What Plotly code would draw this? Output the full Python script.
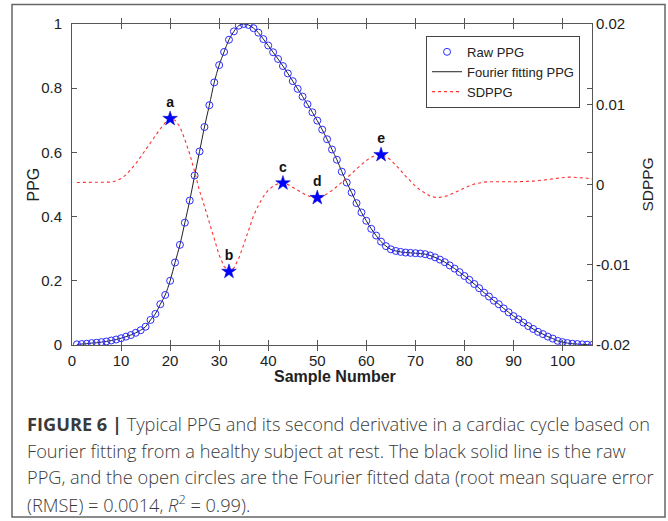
import plotly.graph_objects as go

# ---------------- data ----------------
sample = list(range(1, 107))

ppg = [0.002, 0.003, 0.004, 0.006, 0.007, 0.009, 0.011, 0.014, 0.017, 0.021,
       0.026, 0.031, 0.038, 0.046, 0.057, 0.078, 0.097, 0.127, 0.156, 0.200,
       0.257, 0.312, 0.381, 0.450, 0.528, 0.603, 0.679, 0.747, 0.818, 0.872,
       0.913, 0.951, 0.977, 0.995, 1.000, 0.997, 0.987, 0.973, 0.953, 0.933,
       0.912, 0.891, 0.869, 0.846, 0.822, 0.798, 0.774, 0.750, 0.725, 0.699,
       0.671, 0.641, 0.609, 0.577, 0.540, 0.506, 0.475, 0.442, 0.413, 0.387,
       0.362, 0.341, 0.322, 0.308, 0.298, 0.293, 0.290, 0.288, 0.287, 0.286,
       0.285, 0.283, 0.279, 0.273, 0.266, 0.258, 0.248, 0.238, 0.227, 0.215,
       0.203, 0.190, 0.177, 0.163, 0.151, 0.138, 0.127, 0.114, 0.102, 0.090,
       0.080, 0.070, 0.059, 0.050, 0.041, 0.034, 0.026, 0.020, 0.013, 0.009,
       0.006, 0.004, 0.003, 0.002, 0.001, 0.000]

sdppg = [0.00025, 0.00025, 0.00024, 0.00024, 0.00024, 0.00024, 0.00025, 0.00030, 0.00045, 0.00075,
         0.00120, 0.00185, 0.00260, 0.00345, 0.00435, 0.00525, 0.00610, 0.00695, 0.00770, 0.00820,
         0.00800, 0.00720, 0.00560, 0.00380, 0.00160, -0.00080, -0.00270, -0.00480, -0.00690, -0.00880,
         -0.01020, -0.01085, -0.01040, -0.00920, -0.00750, -0.00560, -0.00390, -0.00260, -0.00150, -0.00070,
         -0.00020, 0.00010, 0.00017, 0.00000, -0.00035, -0.00070, -0.00110, -0.00140, -0.00160, -0.00165,
         -0.00155, -0.00120, -0.00075, -0.00025, 0.00025, 0.00075, 0.00135, 0.00195, 0.00250, 0.00300,
         0.00340, 0.00365, 0.00370, 0.00350, 0.00305, 0.00245, 0.00175, 0.00105, 0.00040, -0.00020,
         -0.00070, -0.00110, -0.00145, -0.00160, -0.00160, -0.00150, -0.00130, -0.00100, -0.00070, -0.00040,
         -0.00015, 0.00005, 0.00020, 0.00030, 0.00035, 0.00037, 0.00037, 0.00036, 0.00034, 0.00033,
         0.00033, 0.00035, 0.00038, 0.00042, 0.00048, 0.00055, 0.00062, 0.00070, 0.00080, 0.00088,
         0.00092, 0.00092, 0.00090, 0.00085, 0.00078, 0.00070]

star_samples = [20, 32, 43, 50, 63]
star_labels = ["a", "b", "c", "d", "e"]
star_values = [sdppg[s - 1] for s in star_samples]

x_ticks = [0, 10, 20, 30, 40, 50, 60, 70, 80, 90, 100]
y_ticks = [0, 0.2, 0.4, 0.6, 0.8, 1]
y_ticktext = ["0", "0.2", "0.4", "0.6", "0.8", "1"]
y2_ticks = [-0.02, -0.01, 0, 0.01, 0.02]
y2_ticktext = ["-0.02", "-0.01", "0", "0.01", "0.02"]

caption_lines = [
    "<b>FIGURE 6 |</b> Typical PPG and its second derivative in a cardiac cycle based on",
    "Fourier fitting from a healthy subject at rest. The black solid line is the raw",
    "PPG, and the open circles are the Fourier fitted data (root mean square error",
    "(RMSE) = 0.0014, <i>R</i><sup>2</sup> = 0.99).",
]

# ---------------- figure ----------------
FONT = "Liberation Sans, Arial, sans-serif"
CAP_FONT = "Open Sans, Liberation Sans, sans-serif"
TXT = "#222222"
fig = go.Figure()

fig.add_trace(go.Scatter(
    x=sample, y=sdppg, yaxis="y2", mode="lines", name="SDPPG",
    line=dict(color="#ff3030", width=1.1, dash="dot"), legendrank=3))

fig.add_trace(go.Scatter(
    x=sample, y=ppg, mode="lines", name="Fourier fitting PPG",
    line=dict(color="#222222", width=1, shape="spline"), legendrank=2))

fig.add_trace(go.Scatter(
    x=sample, y=ppg, mode="markers", name="Raw PPG",
    marker=dict(symbol="circle-open", size=7, color="#2b2bff", line=dict(width=1)),
    legendrank=1))

fig.add_trace(go.Scatter(
    x=star_samples, y=star_values, yaxis="y2", mode="markers+text",
    text=star_labels, textposition="top center",
    textfont=dict(family=FONT, size=14, color="#111111", weight="bold"),
    marker=dict(symbol="star", size=11, color="#0000ff", line=dict(color="#0000cc", width=0.5)),
    showlegend=False))

axis_line = "#555555"
fig.update_layout(
    width=668, height=521,
    margin=dict(l=72, r=76, t=24, b=176, autoexpand=False),
    paper_bgcolor="white", plot_bgcolor="white",
    font=dict(family=FONT, size=15, color=TXT),
    showlegend=True,
    legend=dict(x=0.977, y=0.963, xanchor="right", yanchor="top",
                bordercolor="#444444", borderwidth=1, bgcolor="white",
                font=dict(family=FONT, size=13, color=TXT),
                tracegroupgap=0, itemwidth=30),
    xaxis=dict(range=[0, 106], tickvals=x_ticks, ticks="inside", ticklen=5,
               tickcolor=axis_line, showline=True, linecolor=axis_line, linewidth=1,
               mirror="allticks", showgrid=False, zeroline=False,
               ticklabelstandoff=2,
               tickfont=dict(size=15, color=TXT)),
    yaxis=dict(range=[0, 1], tickvals=y_ticks, ticktext=y_ticktext, ticks="inside",
               ticklen=5, tickcolor=axis_line, showline=True, linecolor=axis_line,
               linewidth=1, mirror="allticks", showgrid=False, zeroline=False,
               ticklabelstandoff=6,
               tickfont=dict(size=15, color=TXT)),
    yaxis2=dict(range=[-0.02, 0.02], tickvals=y2_ticks, ticktext=y2_ticktext,
                overlaying="y", side="right", ticks="inside", ticklen=5,
                tickcolor=axis_line, showline=True, linecolor=axis_line,
                showgrid=False, zeroline=False,
                tickfont=dict(size=15, color=TXT)),
)

ann = []
ann.append(dict(text="PPG", x=-0.075, y=0.5, xref="paper", yref="paper",
                xanchor="center", yanchor="middle",
                textangle=-90, showarrow=False, font=dict(size=16, color=TXT)))
ann.append(dict(text="SDPPG", x=1.106, y=0.5, xref="paper", yref="paper",
                xanchor="center", yanchor="middle",
                textangle=-90, showarrow=False, font=dict(size=15.5, color=TXT)))
ann.append(dict(text="<b>Sample Number</b>", x=0.506, y=-0.099, xref="paper", yref="paper",
                xanchor="center", yanchor="middle",
                showarrow=False, font=dict(size=16, color=TXT)))
cap_y = [-0.246, -0.329, -0.412, -0.495]
for line, yy in zip(caption_lines, cap_y):
    ann.append(dict(text=line, x=-0.0904, y=yy, xref="paper", yref="paper",
                    xanchor="left", yanchor="middle", showarrow=False,
                    font=dict(family=CAP_FONT, size=18.2, color="#3a3a3a", weight=300)))
fig.update_layout(annotations=ann)

fig.add_shape(type="rect", xref="paper", yref="paper",
              x0=-0.1154, x1=1.1404, y0=-0.536, y1=1.0607,
              line=dict(color="#666666", width=1.5), fillcolor="rgba(0,0,0,0)",
              layer="below")

fig.write_html("out.html", config={"displayModeBar": False},
               post_script="document.body.style.margin='0';")
